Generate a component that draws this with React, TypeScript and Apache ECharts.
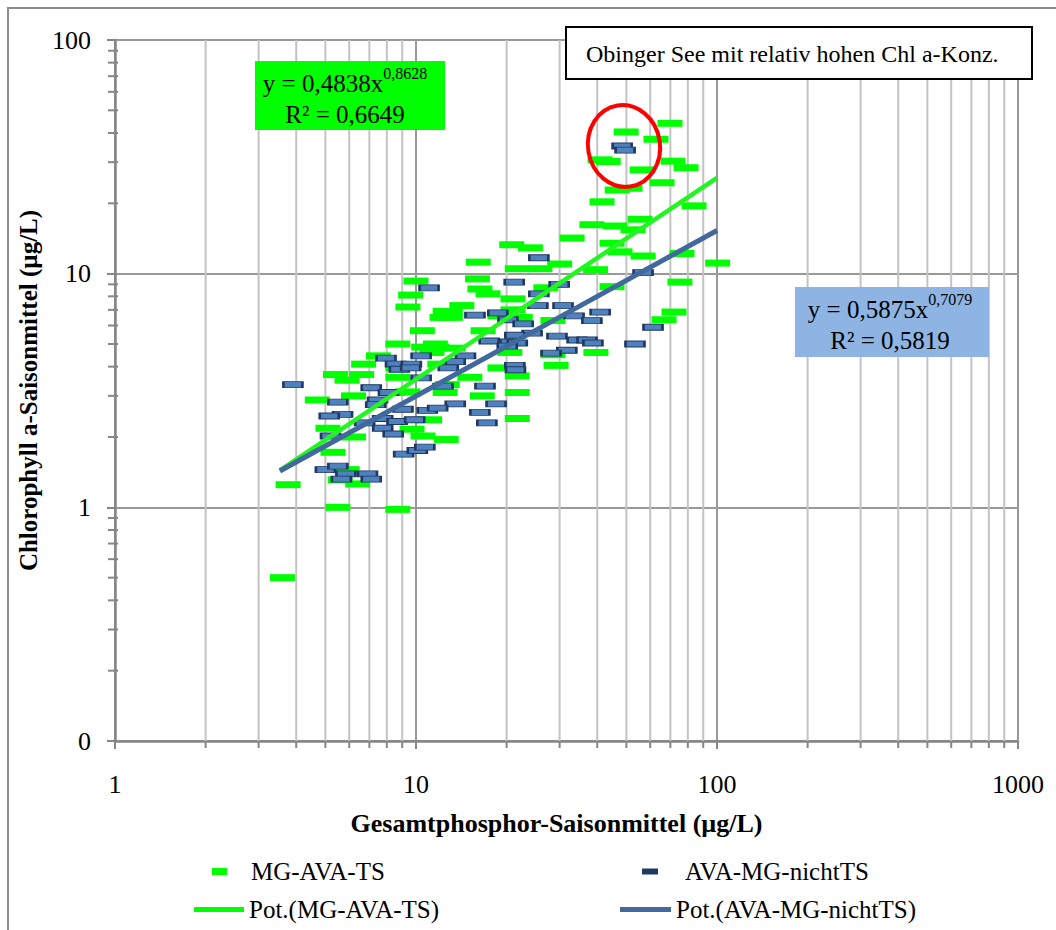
import React, { useEffect, useRef } from "react";
import * as echarts from "echarts";

const SERIES_NAMES = ["MG-AVA-TS", "AVA-MG-nichtTS", "Pot.(MG-AVA-TS)", "Pot.(AVA-MG-nichtTS)"];

// Gesamtphosphor (µg/L), Chlorophyll a (µg/L)
const mgAvaTs: number[][] = [
  [3.6, 0.5], [3.76, 1.25], [5.5, 1.0], [8.7, 0.98], [5.6, 1.31], [6.4, 1.26], [5.9, 1.45],
  [5.3, 1.72], [6.2, 2.0], [5.1, 2.18], [10.55, 2.02], [12.6, 1.95], [9.7, 2.16], [11.1, 2.37],
  [4.7, 2.88], [6.2, 3.0], [8.4, 3.1], [9.4, 3.12], [5.4, 3.7], [6.6, 3.7], [5.9, 3.5],
  [8.7, 3.6], [8.7, 3.95], [6.7, 4.1], [7.5, 4.45], [8.7, 5.0], [10.6, 4.85], [11.6, 5.0],
  [10.5, 5.7], [9.4, 7.2], [9.6, 8.1], [10.0, 9.3], [12.5, 6.9], [12.2, 6.5], [11.7, 4.85],
  [11.3, 4.6], [12.0, 4.1], [12.5, 3.1], [16.6, 3.0], [21.7, 3.1], [21.7, 2.4], [12.7, 3.35],
  [15.1, 3.6], [21.7, 3.65], [19.0, 3.95], [28.5, 4.5], [29.2, 4.05], [20.5, 4.6], [39.6, 4.6],
  [13.3, 4.8], [16.7, 5.7], [14.2, 7.3], [13.0, 6.85], [13.0, 6.5], [21.0, 7.0], [22.2, 6.5],
  [19.0, 6.6], [28.5, 6.3], [17.35, 8.2], [16.3, 8.6], [16.0, 9.5], [21.0, 7.8], [27.0, 8.7],
  [16.1, 11.2], [20.8, 13.3], [24.0, 12.9], [21.7, 10.5], [25.8, 10.5], [30.0, 11.0], [33.0, 14.2],
  [38.4, 16.2], [39.5, 10.4], [69.8, 44.0], [49.9, 40.4], [62.7, 37.6], [40.9, 30.7], [43.5, 30.2],
  [71.4, 30.3], [78.9, 28.4], [56.4, 27.8], [65.7, 24.5], [46.6, 22.8], [51.4, 23.2], [41.5, 20.3],
  [83.9, 19.5], [55.5, 17.1], [45.8, 16.0], [52.6, 15.4], [44.8, 13.5], [47.6, 12.4], [56.8, 11.9],
  [76.5, 12.2], [100.5, 11.1], [44.8, 8.8], [75.3, 9.2], [72.0, 6.85], [66.7, 6.35]
];

const avaMgNichtTs: number[][] = [
  [3.9, 3.35], [5.0, 1.45], [5.5, 1.5], [5.85, 1.39], [5.65, 1.32], [6.9, 1.39], [7.1, 1.32],
  [5.5, 2.82], [5.7, 2.5], [5.15, 2.46], [5.2, 2.02], [7.1, 3.25], [7.45, 2.88], [7.35, 2.75],
  [7.95, 4.35], [8.55, 4.1], [9.65, 4.1], [10.4, 4.45], [8.8, 3.9], [9.6, 3.95], [10.4, 3.58],
  [12.3, 3.3], [6.75, 2.3], [7.75, 2.4], [7.75, 2.18], [8.4, 2.06], [8.65, 2.33], [9.9, 2.37],
  [8.1, 3.1], [9.05, 2.63], [10.9, 2.6], [9.1, 1.69], [10.1, 1.75], [10.7, 1.81], [11.05, 8.7],
  [25.6, 11.7], [21.2, 9.2], [29.9, 9.0], [25.6, 8.2], [25.4, 7.3], [30.8, 7.3], [33.5, 6.6],
  [15.7, 6.65], [18.7, 6.8], [20.2, 6.35], [22.7, 6.1], [24.3, 5.57], [21.3, 5.45], [29.4, 5.4],
  [17.5, 5.15], [20.5, 5.1], [21.7, 5.05], [20.1, 4.9], [31.7, 4.7], [28.1, 4.57], [34.3, 5.2],
  [37.0, 5.2], [38.7, 5.05], [38.4, 6.3], [40.9, 6.85], [53.4, 5.0], [61.3, 5.9], [56.8, 10.1],
  [48.4, 35.2], [49.5, 33.8], [14.6, 4.45], [13.5, 4.2], [12.8, 3.95], [21.3, 4.05], [21.4, 3.88],
  [16.95, 3.3], [13.5, 2.77], [18.45, 2.77], [11.8, 2.66], [16.3, 2.55], [17.2, 2.3]
];

// power trendlines (straight on log-log): endpoints
const trendMgAvaTs: number[][] = [[3.53, 1.44], [100, 25.7]];
const trendAvaMgNichtTs: number[][] = [[3.53, 1.43], [100, 15.3]];

const eqMgAvaTs = { coef: "0,4838", exp: "0,8628", r2: "0,6649" };
const eqAvaMgNichtTs = { coef: "0,5875", exp: "0,7079", r2: "0,5819" };
const noteText = "Obinger See mit relativ hohen Chl a-Konz.";

const xMinorTicks = [2, 3, 4, 5, 6, 7, 8, 9, 20, 30, 40, 50, 60, 70, 80, 90, 200, 300, 400, 500, 600, 700, 800, 900];
const yMinorTicks = [0.2, 0.3, 0.4, 0.5, 0.6, 0.7, 0.8, 0.9, 2, 3, 4, 5, 6, 7, 8, 9, 20, 30, 40, 50, 60, 70, 80, 90];

const FONT = "'Liberation Serif', 'Times New Roman', serif";
const GREEN = "#00FF00";
const BLUE_FILL = "#4F81BD";
const BLUE_EDGE = "#1F3864";
const BLUE_LINE = "#41699E";
const AXIS_GRAY = "#868686";

function eqText(e: { coef: string; exp: string; r2: string }) {
  return `{a|y = ${e.coef}x}{s|${e.exp}}\n{a|R² = ${e.r2}}`;
}
const eqRich = {
  a: { fontSize: 25, fontFamily: FONT, lineHeight: 31, verticalAlign: "bottom", color: "#000" },
  s: { fontSize: 16, fontFamily: FONT, lineHeight: 18, verticalAlign: "top", color: "#000" },
};

export default function App() {
  const ref = useRef<HTMLDivElement>(null);
  useEffect(() => {
    if (!ref.current) return;
    const chart = echarts.init(ref.current, undefined, { renderer: "svg" });
    const legendText = { fontFamily: FONT, fontSize: 25, color: "#000" };
    const option: any = {
      animation: false,
      backgroundColor: "#fff",
      textStyle: { fontFamily: FONT },
      grid: {
        left: 115, top: 40, width: 903, height: 701,
        show: true, borderColor: "#000", borderWidth: 2, backgroundColor: "transparent",
      },
      xAxis: {
        type: "log", logBase: 10, min: 1, max: 1000,
        name: "Gesamtphosphor-Saisonmittel (µg/L)",
        nameLocation: "middle", nameGap: 69,
        nameTextStyle: { fontFamily: FONT, fontSize: 26, fontWeight: "bold", color: "#000", padding: [0, 20, 0, 0] },
        axisLine: { show: true, lineStyle: { color: AXIS_GRAY, width: 2.5 } },
        axisTick: { show: true, length: 8, lineStyle: { color: AXIS_GRAY, width: 2 } },
        axisLabel: { margin: 30, fontFamily: FONT, fontSize: 26, color: "#000", formatter: (v: number) => String(Math.round(v)) },
        splitLine: { show: true, lineStyle: { color: "#999999", width: 2 } },
        minorTick: { show: false }, minorSplitLine: { show: false },
      },
      yAxis: {
        type: "log", logBase: 10, min: 0.1, max: 100,
        name: "Chlorophyll a-Saisonmittel (µg/L)",
        nameLocation: "middle", nameGap: 70, nameRotate: 90,
        nameTextStyle: { fontFamily: FONT, fontSize: 25, fontWeight: "bold", color: "#000" },
        axisLine: { show: true, lineStyle: { color: AXIS_GRAY, width: 2.5 } },
        axisTick: { show: true, length: 8, lineStyle: { color: AXIS_GRAY, width: 2 } },
        axisLabel: { margin: 24, fontFamily: FONT, fontSize: 26, color: "#000", formatter: (v: number) => (v < 1 ? "0" : String(Math.round(v))) },
        splitLine: { show: true, lineStyle: { color: "#999999", width: 2 } },
        minorTick: { show: false }, minorSplitLine: { show: false },
      },
      legend: [
        { data: [{ name: SERIES_NAMES[0], icon: "rect", itemStyle: { color: GREEN } }], left: 212, top: 859, padding: 0, itemWidth: 15, itemHeight: 7, textStyle: { ...legendText, padding: [0, 0, 0, 19] } },
        { data: [{ name: SERIES_NAMES[1], icon: "rect", itemStyle: { color: BLUE_EDGE, borderWidth: 0 } }], left: 642, top: 859, padding: 0, itemWidth: 16, itemHeight: 6, textStyle: { ...legendText, padding: [0, 0, 0, 22] } },
        { data: [{ name: SERIES_NAMES[2], icon: "rect", itemStyle: { color: GREEN } }], left: 194, top: 897, padding: 0, itemWidth: 50, itemHeight: 5, textStyle: legendText },
        { data: [{ name: SERIES_NAMES[3], icon: "rect", itemStyle: { color: BLUE_LINE } }], left: 620, top: 897, padding: 0, itemWidth: 51, itemHeight: 5, textStyle: legendText },
      ],
      series: [
        {
          type: "custom", silent: true, z: 1,
          data: xMinorTicks.map((v) => [v, 1]),
          renderItem: (_p: any, api: any) => {
            const v = api.value(0);
            const top = api.coord([v, 100]);
            const bot = api.coord([v, 0.1]);
            return {
              type: "group",
              children: [
                { type: "line", shape: { x1: bot[0], y1: top[1], x2: bot[0], y2: bot[1] }, style: { stroke: "#C3C3C3", lineWidth: 2 } },
                { type: "line", shape: { x1: bot[0], y1: bot[1], x2: bot[0], y2: bot[1] + 7 }, style: { stroke: AXIS_GRAY, lineWidth: 2 } },
              ],
            };
          },
        },
        {
          type: "custom", silent: true, z: 1,
          data: yMinorTicks.map((v) => [1, v]),
          renderItem: (_p: any, api: any) => {
            const p = api.coord([1, api.value(1)]);
            return { type: "line", shape: { x1: p[0] - 7, y1: p[1], x2: p[0] + 3, y2: p[1] }, style: { stroke: AXIS_GRAY, lineWidth: 2 } };
          },
        },
        {
          name: SERIES_NAMES[0], type: "scatter", z: 3, data: mgAvaTs,
          symbol: "rect", symbolSize: [25, 7],
          itemStyle: { color: GREEN, opacity: 1 },
        },
        {
          name: SERIES_NAMES[1], type: "scatter", z: 4, data: avaMgNichtTs,
          symbol: "rect", symbolSize: [19, 6],
          itemStyle: { color: BLUE_FILL, borderColor: BLUE_EDGE, borderWidth: 1.5, opacity: 1 },
        },
        {
          name: SERIES_NAMES[2], type: "line", z: 5, data: trendMgAvaTs,
          symbol: "none", lineStyle: { color: "#22F522", width: 4.5 },
          itemStyle: { color: GREEN },
        },
        {
          name: SERIES_NAMES[3], type: "line", z: 6, data: trendAvaMgNichtTs,
          symbol: "none", lineStyle: { color: BLUE_LINE, width: 5 },
          itemStyle: { color: BLUE_LINE },
        },
      ],
      graphic: [
        { type: "rect", silent: true, z: 0, shape: { x: 8, y: 8, width: 1200, height: 1000 }, style: { fill: "none", stroke: "#8C8C8C", lineWidth: 2 } },
        { type: "rect", z: 100, shape: { x: 255, y: 61, width: 190, height: 69 }, style: { fill: GREEN } },
        { type: "text", z: 101, x: 345, y: 96, style: { text: eqText(eqMgAvaTs), rich: eqRich, align: "center", verticalAlign: "middle", fill: "#000" } },
        { type: "rect", z: 100, shape: { x: 795, y: 287, width: 194, height: 70 }, style: { fill: "#8DB4E2" } },
        { type: "text", z: 101, x: 890, y: 322, style: { text: eqText(eqAvaMgNichtTs), rich: eqRich, align: "center", verticalAlign: "middle", fill: "#000" } },
        { type: "rect", z: 100, shape: { x: 566, y: 27, width: 466, height: 52 }, style: { fill: "#fff", stroke: "#000", lineWidth: 2 } },
        { type: "text", z: 101, x: 586, y: 54, style: { text: noteText, font: `24px ${FONT}`, fill: "#000", align: "left", verticalAlign: "middle" } },
        { type: "ellipse", z: 102, x: 624, y: 146, rotation: 0.16, shape: { cx: 0, cy: 0, rx: 36, ry: 41 }, style: { fill: "none", stroke: "#FF0000", lineWidth: 4 } },
      ],
    };
    chart.setOption(option);
    return () => chart.dispose();
  }, []);
  return <div ref={ref} style={{ position: "absolute", left: 0, top: 0, width: 1056, height: 930 }} />;
}
